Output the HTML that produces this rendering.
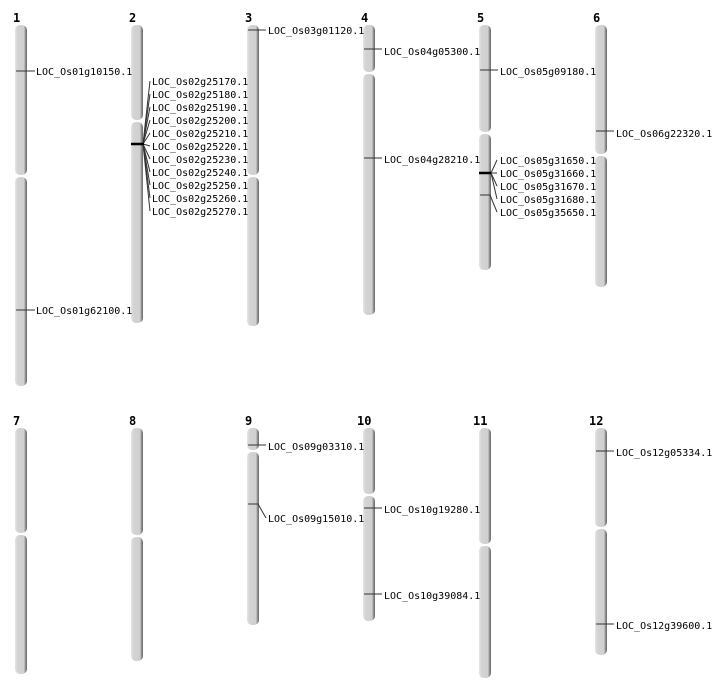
<!DOCTYPE html>
<html><head><style>body{margin:0;background:#fff}svg{display:block}</style></head><body>
<svg width="712" height="700" xmlns="http://www.w3.org/2000/svg" font-family="'DejaVu Sans Mono','Liberation Mono',monospace" font-size="10">
<defs>
<linearGradient id="g" x1="0" x2="1" y1="0" y2="0">
<stop offset="0" stop-color="#e6e6e6"/><stop offset="0.2" stop-color="#d4d4d4"/><stop offset="0.75" stop-color="#cfcfcf"/><stop offset="0.85" stop-color="#999"/><stop offset="1" stop-color="#666"/>
</linearGradient>
</defs>
<g fill="url(#g)">
<!-- row1 -->
<rect x="15" y="25" width="12" height="150" rx="5"/><rect x="15" y="177" width="12" height="209" rx="5"/>
<rect x="131" y="25" width="12" height="95" rx="5"/><rect x="131" y="122" width="12" height="201" rx="5"/>
<rect x="247" y="25" width="12" height="150" rx="5"/><rect x="247" y="177" width="12" height="149" rx="5"/>
<rect x="363" y="25" width="12" height="47" rx="5"/><rect x="363" y="74" width="12" height="241" rx="5"/>
<rect x="479" y="25" width="12" height="107" rx="5"/><rect x="479" y="134" width="12" height="136" rx="5"/>
<rect x="595" y="25" width="12" height="129" rx="5"/><rect x="595" y="156" width="12" height="131" rx="5"/>
<!-- row2 -->
<rect x="15" y="428" width="12" height="105" rx="5"/><rect x="15" y="535" width="12" height="139" rx="5"/>
<rect x="131" y="428" width="12" height="107" rx="5"/><rect x="131" y="537" width="12" height="124" rx="5"/>
<rect x="247" y="428" width="12" height="22" rx="5"/><rect x="247" y="452" width="12" height="173" rx="5"/>
<rect x="363" y="428" width="12" height="66" rx="5"/><rect x="363" y="496" width="12" height="125" rx="5"/>
<rect x="479" y="428" width="12" height="116" rx="5"/><rect x="479" y="546" width="12" height="132" rx="5"/>
<rect x="595" y="428" width="12" height="99" rx="5"/><rect x="595" y="529" width="12" height="126" rx="5"/>
</g>
<g font-weight="bold" font-size="12" fill="#000">
<text x="13" y="22">1</text><text x="129" y="22">2</text><text x="245" y="22">3</text><text x="361" y="22">4</text><text x="477" y="22">5</text><text x="593" y="22">6</text>
<text x="13" y="425">7</text><text x="129" y="425">8</text><text x="245" y="425">9</text><text x="357" y="425">10</text><text x="473" y="425">11</text><text x="589" y="425">12</text>
</g>
<g stroke="#333" stroke-width="1" fill="none">
<line x1="16" y1="71" x2="35" y2="71"/><line x1="16" y1="310" x2="35" y2="310"/>
<line x1="248" y1="30" x2="266" y2="30"/>
<line x1="364" y1="49" x2="382" y2="49"/><line x1="364" y1="158" x2="382" y2="158"/>
<line x1="480" y1="70" x2="498" y2="70"/>
<line x1="596" y1="131" x2="614" y2="131"/>
<line x1="248" y1="445" x2="266" y2="445"/>
<line x1="364" y1="508" x2="382" y2="508"/><line x1="364" y1="594" x2="382" y2="594"/>
<line x1="596" y1="451" x2="614" y2="451"/><line x1="596" y1="624" x2="614" y2="624"/>
<polyline points="248,504 258,504 266,518"/>
<polyline points="480,195 490,195 497,212"/>
<line x1="143" y1="144" x2="150" y2="81"/><line x1="143" y1="144" x2="150" y2="94"/><line x1="143" y1="144" x2="150" y2="107"/><line x1="143" y1="144" x2="150" y2="120"/><line x1="143" y1="144" x2="150" y2="133"/><line x1="143" y1="144" x2="150" y2="146"/><line x1="143" y1="144" x2="150" y2="159"/><line x1="143" y1="144" x2="150" y2="172"/><line x1="143" y1="144" x2="150" y2="185"/><line x1="143" y1="144" x2="150" y2="198"/><line x1="143" y1="144" x2="150" y2="211"/>
<line x1="491" y1="173" x2="497" y2="160"/><line x1="491" y1="173" x2="497" y2="173"/><line x1="491" y1="173" x2="497" y2="186"/><line x1="491" y1="173" x2="497" y2="199"/>
</g>
<g stroke="#000" stroke-width="2.5">
<line x1="131" y1="144" x2="144" y2="144"/><line x1="479" y1="173" x2="491" y2="173"/>
</g>
<g fill="#000">
<text x="36" y="75">LOC_Os01g10150.1</text><text x="36" y="314">LOC_Os01g62100.1</text>
<text x="152" y="85">LOC_Os02g25170.1</text><text x="152" y="98">LOC_Os02g25180.1</text><text x="152" y="111">LOC_Os02g25190.1</text><text x="152" y="124">LOC_Os02g25200.1</text><text x="152" y="137">LOC_Os02g25210.1</text><text x="152" y="150">LOC_Os02g25220.1</text><text x="152" y="163">LOC_Os02g25230.1</text><text x="152" y="176">LOC_Os02g25240.1</text><text x="152" y="189">LOC_Os02g25250.1</text><text x="152" y="202">LOC_Os02g25260.1</text><text x="152" y="215">LOC_Os02g25270.1</text>
<text x="268" y="34">LOC_Os03g01120.1</text>
<text x="384" y="55">LOC_Os04g05300.1</text><text x="384" y="163">LOC_Os04g28210.1</text>
<text x="500" y="75">LOC_Os05g09180.1</text>
<text x="500" y="164">LOC_Os05g31650.1</text><text x="500" y="177">LOC_Os05g31660.1</text><text x="500" y="190">LOC_Os05g31670.1</text><text x="500" y="203">LOC_Os05g31680.1</text><text x="500" y="216">LOC_Os05g35650.1</text>
<text x="616" y="137">LOC_Os06g22320.1</text>
<text x="268" y="450">LOC_Os09g03310.1</text><text x="268" y="522">LOC_Os09g15010.1</text>
<text x="384" y="513">LOC_Os10g19280.1</text><text x="384" y="599">LOC_Os10g39084.1</text>
<text x="616" y="456">LOC_Os12g05334.1</text><text x="616" y="629">LOC_Os12g39600.1</text>
</g>
</svg>
</body></html>
